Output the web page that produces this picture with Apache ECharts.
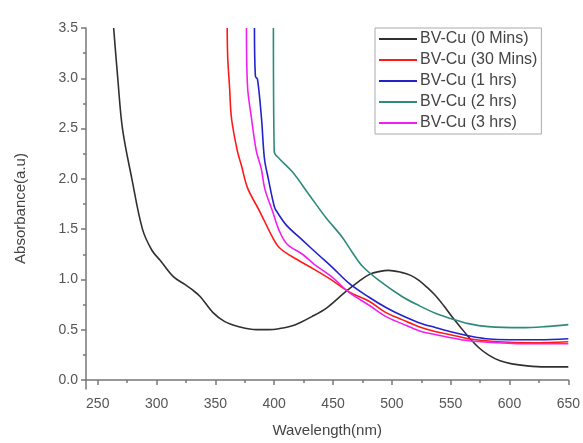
<!DOCTYPE html>
<html>
<head>
<meta charset="utf-8">
<script src="https://cdn.jsdelivr.net/npm/echarts@6/dist/echarts.min.js"></script>
<style>
  html, body { margin: 0; padding: 0; background: #fff; }
  #chart { width: 583px; height: 443px; }
</style>
</head>
<body>
<div id="chart"></div>
<script>
// values: [wavelength (nm), absorbance (a.u)]
var names = ['BV-Cu (0 Mins)', 'BV-Cu (30 Mins)', 'BV-Cu (1 hrs)', 'BV-Cu (2 hrs)', 'BV-Cu (3 hrs)'];
var colors = ['#303030', '#ff1a1a', '#2222cc', '#2e8a7c', '#f020f0'];

var cu0 = [[263.5,3.5],[267,3.0],[271,2.5],[279,2.0],[288,1.5],[296,1.29],[303,1.19],[314,1.03],
  [324,0.95],[330,0.9],[337,0.83],[348,0.67],[358,0.58],[370,0.53],[385,0.5],[395,0.5],[404,0.51],
  [418,0.55],[432,0.63],[445,0.72],[460,0.87],[472,0.98],[481,1.05],[490,1.08],[497,1.09],[508,1.07],
  [516,1.04],[523,0.99],[530,0.92],[537,0.84],[544,0.74],[551,0.63],[558,0.53],[565,0.43],[574,0.32],
  [582,0.25],[592,0.19],[602,0.16],[615,0.14],[630,0.13],[650,0.13]];
var cu30 = [[360,3.5],[360.5,3.2],[362,2.92],[363.7,2.6],[368.8,2.27],[372.2,2.13],[377.3,1.91],
  [387.5,1.68],[398.5,1.42],[404,1.32],[414.6,1.23],[434,1.1],[448,1.0],[463.7,0.875],[481,0.78],
  [495,0.67],[508.6,0.6],[523,0.53],[537.5,0.48],[550,0.45],[565,0.41],[590,0.38],[620,0.37],[650,0.38]];
var cu1h = [[383.2,3.5],[384,3.02],[385.8,2.99],[389.2,2.6],[391.7,2.2],[395,2.0],[400.2,1.72],
  [403,1.66],[410.3,1.54],[424,1.39],[438,1.24],[448.5,1.13],[463.7,0.96],[481,0.82],[495,0.72],
  [508.6,0.64],[523,0.57],[537.5,0.52],[550,0.48],[565,0.44],[580,0.41],[600,0.4],[625,0.4],[650,0.41]];
var cu2h = [[399.3,3.5],[400,2.27],[404.4,2.2],[415.4,2.07],[429.8,1.84],[444.2,1.61],[457.8,1.42],
  [466.3,1.27],[475,1.13],[489,0.99],[508.6,0.83],[523,0.74],[537.5,0.66],[550,0.61],[565,0.56],
  [582,0.53],[610,0.52],[630,0.53],[650,0.55]];
var cu3h = [[376.4,3.5],[377.3,2.92],[380.7,2.6],[384.9,2.27],[389,2.1],[392,1.9],[398.5,1.68],
  [404.4,1.48],[411,1.35],[424,1.25],[434,1.15],[448.5,1.03],[463.7,0.87],[481,0.74],[495,0.63],
  [508.6,0.56],[523,0.49],[537.5,0.45],[550,0.42],[565,0.39],[590,0.37],[610,0.36],[650,0.36]];

var xTicks = [250, 300, 350, 400, 450, 500, 550, 600, 650];
var xMinor = [275, 325, 375, 425, 475, 525, 575, 625];
var yTicks = [0, 0.5, 1.0, 1.5, 2.0, 2.5, 3.0, 3.5];
var yMinor = [0.25, 0.75, 1.25, 1.75, 2.25, 2.75, 3.25];

var seriesData = [cu0, cu30, cu1h, cu2h, cu3h];
var labelFont = { color: '#555', fontSize: 14, fontFamily: 'Liberation Sans, Arial, sans-serif' };

var chart = echarts.init(document.getElementById('chart'));
chart.setOption({
  animation: false,
  backgroundColor: '#fff',
  grid: { left: 86, right: 13, top: 28, bottom: 50 },
  legend: {
    left: 375, top: 28,
    orient: 'vertical',
    icon: 'rect', itemWidth: 38, itemHeight: 2, itemGap: 5,
    borderColor: '#aaa', borderWidth: 1, padding: [3, 4, 3, 4],
    textStyle: { color: '#444', fontSize: 16, fontFamily: 'Liberation Sans, Arial, sans-serif', padding: [0, 0, 0, -2] },
    data: names
  },
  xAxis: [{
    type: 'value', min: 240, max: 650,
    name: 'Wavelength(nm)', nameLocation: 'middle', nameGap: 34,
    nameTextStyle: { color: '#444', fontSize: 15, fontFamily: 'Liberation Sans, Arial, sans-serif' },
    splitLine: { show: false },
    axisLine: { lineStyle: { color: '#777', width: 1.5 } },
    axisTick: { customValues: xTicks, length: 5, lineStyle: { color: '#777', width: 1.5 } },
    axisLabel: Object.assign({ customValues: xTicks, margin: 8 }, labelFont)
  }, {
    type: 'value', min: 240, max: 650, position: 'bottom', gridIndex: 0,
    axisLine: { show: false }, splitLine: { show: false },
    axisTick: { customValues: xMinor, length: 3, lineStyle: { color: '#777', width: 1.5 } },
    axisLabel: { show: false }
  }],
  yAxis: [{
    type: 'value', min: -0.09, max: 3.5,
    name: 'Absorbance(a.u)', nameLocation: 'middle', nameGap: 58,
    nameTextStyle: { color: '#444', fontSize: 15, fontFamily: 'Liberation Sans, Arial, sans-serif' },
    splitLine: { show: false },
    axisLine: { show: true, lineStyle: { color: '#777', width: 1.5 } },
    axisTick: { show: true, customValues: yTicks, length: 5, lineStyle: { color: '#777', width: 1.5 } },
    axisLabel: Object.assign({ customValues: yTicks, margin: 8, formatter: function (v) { return v.toFixed(1); } }, labelFont)
  }, {
    type: 'value', min: -0.09, max: 3.5, position: 'left', gridIndex: 0,
    axisLine: { show: false }, splitLine: { show: false },
    axisTick: { show: true, customValues: yMinor, length: 3, lineStyle: { color: '#777', width: 1.5 } },
    axisLabel: { show: false }
  }],
  series: seriesData.map(function (d, i) {
    return {
      name: names[i], type: 'line', data: d,
      xAxisIndex: 0, yAxisIndex: 0,
      showSymbol: false, smooth: 0.35,
      color: colors[i],
      lineStyle: { width: 1.6, color: colors[i] }
    };
  })
});
</script>
</body>
</html>
